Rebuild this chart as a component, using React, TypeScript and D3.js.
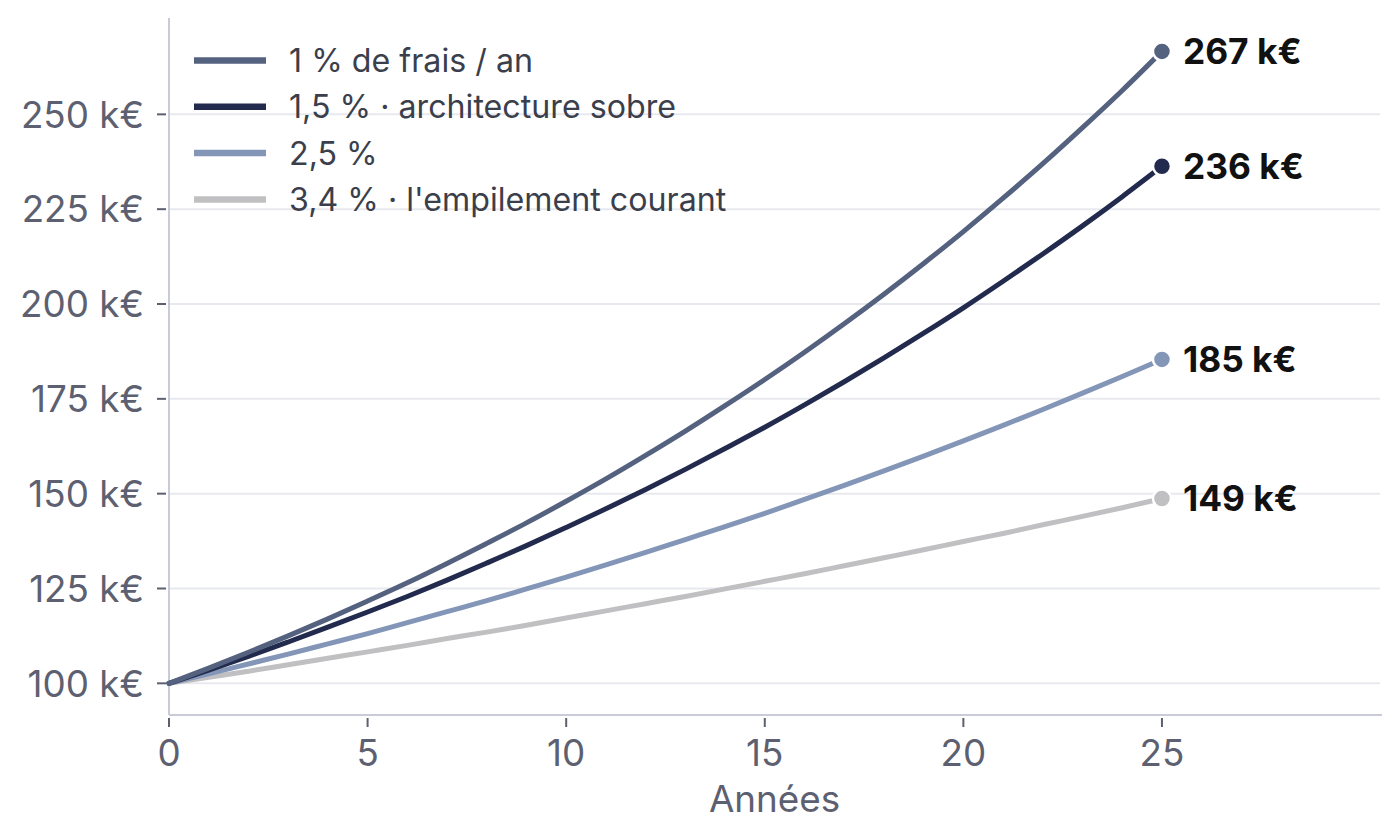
import React from "react";
import * as d3 from "d3";

const years = d3.range(0, 26);

const seriesNames = [
  "1 % de frais / an",
  "1,5 % · architecture sobre",
  "2,5 %",
  "3,4 % · l'empilement courant",
];

const colors = ["#55627f", "#222b4d", "#8396b8", "#c0c0c2"];

const values1 = [100, 104, 108.2, 112.5, 117.0, 121.7, 126.5, 131.6, 136.9, 142.3, 148.0, 153.9, 160.1, 166.5, 173.2, 180.1, 187.3, 194.8, 202.6, 210.7, 219.1, 227.9, 237.0, 246.5, 256.3, 266.6];
const values2 = [100, 103.5, 107.1, 110.9, 114.8, 118.8, 122.9, 127.2, 131.7, 136.3, 141.1, 146.0, 151.1, 156.4, 161.9, 167.5, 173.4, 179.5, 185.8, 192.3, 199.0, 206.0, 213.2, 220.6, 228.3, 236.3];
const values3 = [100, 102.5, 105.1, 107.7, 110.4, 113.1, 116.0, 118.9, 121.8, 124.9, 128.0, 131.2, 134.5, 137.9, 141.3, 144.8, 148.5, 152.2, 156.0, 159.9, 163.9, 168.0, 172.2, 176.5, 180.9, 185.4];
const values4 = [100, 101.6, 103.2, 104.9, 106.6, 108.3, 110.0, 111.8, 113.5, 115.3, 117.2, 119.1, 121.0, 122.9, 124.9, 126.9, 128.9, 131.0, 133.1, 135.2, 137.4, 139.5, 141.8, 144.0, 146.3, 148.7];

const endLabels = ["267 k€", "236 k€", "185 k€", "149 k€"];
const yTicks = [100, 125, 150, 175, 200, 225, 250];
const xTicks = [0, 5, 10, 15, 20, 25];

const allValues = [values1, values2, values3, values4];

export default function App() {
  const W = 1400;
  const H = 840;
  const left = 169;
  const right = 1382;
  const top = 18;
  const bottom = 715;

  const x = d3.scaleLinear().domain([0, 30.54]).range([left, right]);
  const y = d3.scaleLinear().domain([91.65, 275.4]).range([bottom, top]);

  const line = d3
    .line<number>()
    .x((_, i) => x(years[i]))
    .y((d) => y(d))
    .curve(d3.curveMonotoneX);

  const font = "Inter, 'Noto Sans', sans-serif";
  const tickColor = "#5c6070";
  const spineColor = "#c9cbd8";

  return (
    <svg
      width={W}
      height={H}
      viewBox={`0 0 ${W} ${H}`}
      style={{ display: "block", position: "absolute", left: 0, top: 0, background: "#fff" }}
      fontFamily={font}
    >
      <rect width={W} height={H} fill="#fff" />
      {/* gridlines */}
      {yTicks.map((t) => (
        <line key={"g" + t} x1={left} x2={right - 2} y1={y(t)} y2={y(t)} stroke="#e8e9ef" strokeWidth={2} />
      ))}
      {/* spines */}
      <line x1={left} x2={left} y1={top} y2={bottom} stroke={spineColor} strokeWidth={2} />
      <line x1={left} x2={right} y1={bottom} y2={bottom} stroke={spineColor} strokeWidth={2} />
      {/* y ticks */}
      {yTicks.map((t) => (
        <g key={"y" + t}>
          <line x1={157} x2={166} y1={y(t)} y2={y(t)} stroke={tickColor} strokeWidth={2} />
          <text x={144} y={y(t)} dy="0.36em" textAnchor="end" fontSize={36.8} fill={tickColor}>
            {t} k€
          </text>
        </g>
      ))}
      {/* x ticks */}
      {xTicks.map((t) => (
        <g key={"x" + t}>
          <line x1={x(t)} x2={x(t)} y1={718} y2={727} stroke={tickColor} strokeWidth={2} />
          <text x={x(t)} y={766} textAnchor="middle" fontSize={36.8} fill={tickColor}>
            {t}
          </text>
        </g>
      ))}
      <text x={(left + right) / 2 - 1} y={812} textAnchor="middle" fontSize={36.8} fill={tickColor}>
        Années
      </text>
      {/* lines, drawn back to front */}
      {[3, 2, 1, 0].map((i) => (
        <path key={"l" + i} d={line(allValues[i]) || ""} fill="none" stroke={colors[i]} strokeWidth={5} strokeLinecap="round" />
      ))}
      {/* end dots and labels */}
      {allValues.map((vals, i) => {
        const v = vals[vals.length - 1];
        const cx = x(years[years.length - 1]);
        const cy = y(v);
        return (
          <g key={"e" + i}>
            <circle cx={cx} cy={cy} r={9} fill={colors[i]} stroke="#fff" strokeWidth={2.5} />
            <text x={cx + 21} y={cy} dy="0.36em" fontSize={35.3} fontWeight={700} fill="#111111">
              {endLabels[i]}
            </text>
          </g>
        );
      })}
      {/* legend */}
      {seriesNames.map((n, i) => (
        <g key={"lg" + i} transform={`translate(0, ${60.5 + i * 46.3})`}>
          <line x1={194} x2={266} y1={0} y2={0} stroke={colors[i]} strokeWidth={6.5} />
          <text x={289} y={0} dy="0.36em" fontSize={32.2} fill="#3b3f4c">
            {n}
          </text>
        </g>
      ))}
    </svg>
  );
}
